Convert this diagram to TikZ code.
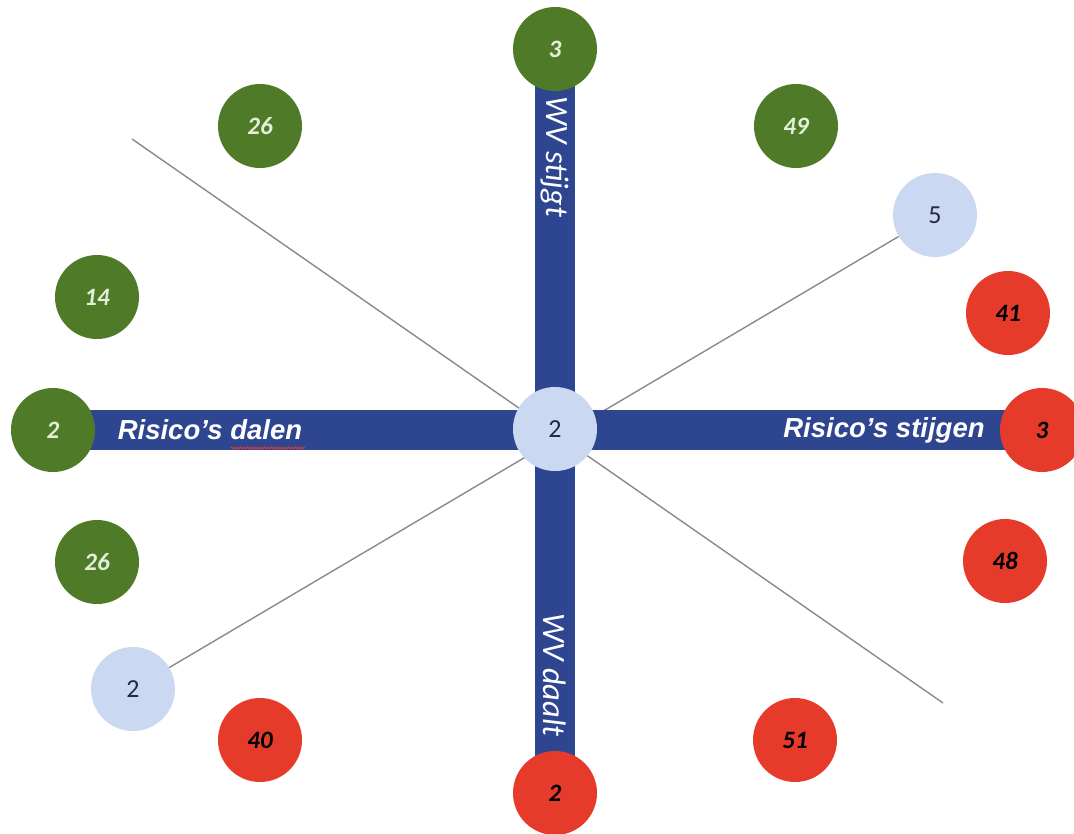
\documentclass[tikz,border=0pt]{standalone}
\usepackage{fontspec}
\setmainfont{Carlito}
\newfontfamily\arialfont{Liberation Sans}
\usetikzlibrary{decorations.pathmorphing}
\definecolor{dgreen}{HTML}{4F7B28}
\definecolor{gtext}{HTML}{E2F0D9}
\definecolor{rred}{HTML}{E63A2A}
\definecolor{palec}{HTML}{CAD8F1}
\definecolor{ptext}{HTML}{222B3F}
\definecolor{barblue}{HTML}{2E4690}
\definecolor{lgray}{HTML}{8A8A8A}
\pgfdeclarelayer{back}
\pgfdeclarelayer{lines}
\pgfdeclarelayer{bars}
\pgfsetlayers{back,lines,bars,main}
\begin{document}
\begin{tikzpicture}[x=1pt,y=-1pt,
  disc/.style={circle, minimum size=84pt, inner sep=0pt},
  gdisc/.style={disc, fill=dgreen, text=gtext, font=\fontsize{25}{27}\selectfont\bfseries\itshape},
  rdisc/.style={disc, fill=rred, text=black, font=\fontsize{25}{27}\selectfont\bfseries\itshape},
  pdisc/.style={disc, fill=palec, text=ptext, font=\fontsize{26}{28}\selectfont},
  barline/.style={draw=barblue, line width=40pt},
  thinline/.style={draw=lgray, line width=1.4pt},
  barlabel/.style={text=white, font=\arialfont\fontsize{27.5}{30}\selectfont\bfseries\itshape},
  wvlabel/.style={text=white, rotate=-90, font=\fontsize{32.5}{35}\selectfont\itshape}
]
\useasboundingbox (0,0) rectangle (1074,833);
\begin{pgfonlayer}{back}
  \fill[white] (0,0) rectangle (1074,833);
\end{pgfonlayer}

\node[gdisc] (t3) at (555,49) {3};
\node[rdisc] (b2) at (555,793) {2};
\node[gdisc] (l2) at (53,430) {2};
\node[rdisc] (r3) at (1042,430) {3};
\node[pdisc] (c) at (555,429) {2};
\node[gdisc] (g26a) at (260,126) {26};
\node[gdisc] (g49) at (796,126) {49};
\node[pdisc] (p5) at (935,215) {5};
\node[gdisc] (g14) at (97,297) {14};
\node[rdisc] (r41) at (1008,313) {41};
\node[gdisc] (g26b) at (97,562) {26};
\node[rdisc] (r48) at (1005,561) {48};
\node[pdisc] (p2) at (133,689) {2};
\node[rdisc] (r40) at (260,740) {40};
\node[rdisc] (r51) at (795,740) {51};

\coordinate (ul) at (132,139);
\coordinate (lr) at (943,703);

\begin{pgfonlayer}{lines}
  \draw[thinline] (ul) -- (lr);
  \draw[thinline] (p5) -- (p2);
\end{pgfonlayer}
\begin{pgfonlayer}{bars}
  \draw[barline] (t3.center) -- (b2.center);
  \draw[barline] (l2.center) -- (r3.center);
\end{pgfonlayer}

\node[barlabel] (rd) at (210,430) {Risico’s dalen};
\node[barlabel] (rs) at (884,430) {Risico’s stijgen};
\node[wvlabel] (ws) at (555,157) {WV stijgt};
\node[wvlabel] (wd) at (555,675) {WV daalt};
\draw[rred, line width=0.8pt, decorate, decoration={snake, amplitude=1pt, segment length=3pt}] (231,448) -- (305,448);
\end{tikzpicture}
\end{document}
